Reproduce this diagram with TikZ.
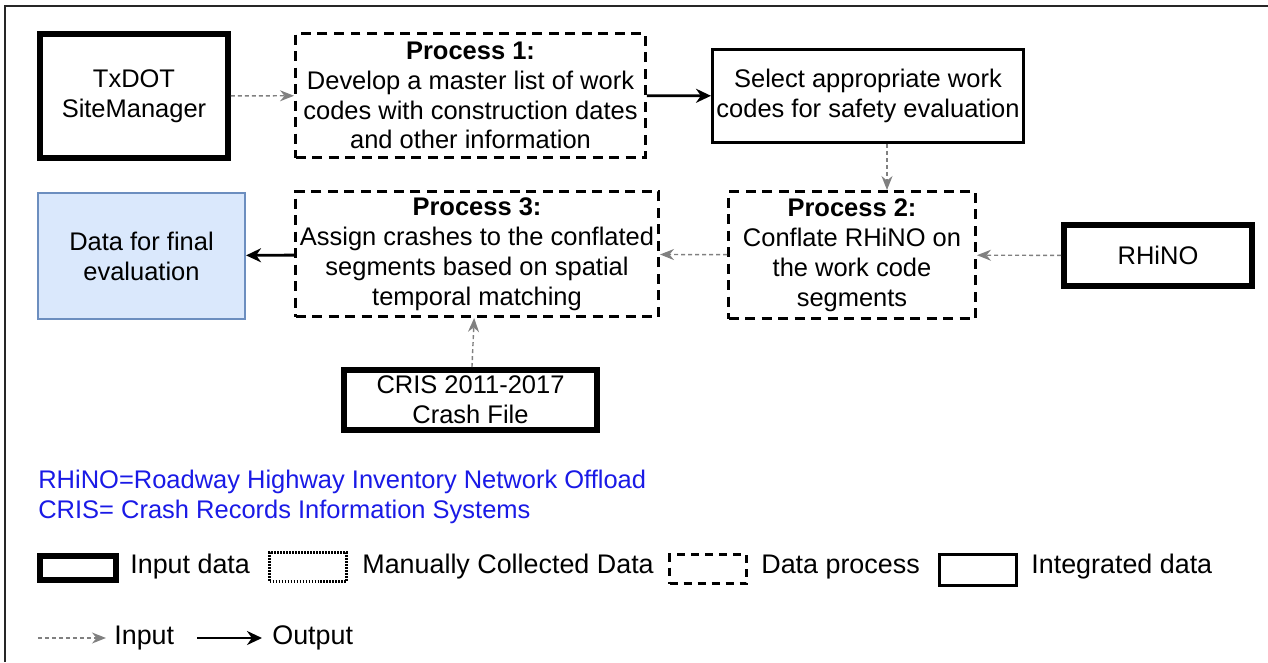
\documentclass[tikz,border=0pt]{standalone}
\usepackage{fontspec}
\setmainfont{Liberation Sans}
\usetikzlibrary{arrows.meta}
\definecolor{finalfill}{HTML}{DAE8FC}
\definecolor{finaldraw}{HTML}{6C8EBF}
\definecolor{abbrblue}{HTML}{1A1AE6}

\begin{document}
\begin{tikzpicture}[every node/.style={font=\fontsize{14.5}{17}\selectfont, align=center},
  legtext/.style={anchor=west, inner sep=0pt, font=\fontsize{15.3}{18}\selectfont},
  inbox/.style={draw, line width=3.4pt, inner sep=0pt},
  procbox/.style={draw, line width=1.7pt, dash pattern=on 0.2cm off 0.13cm, inner sep=0pt},
  intbox/.style={draw, line width=1.7pt, inner sep=0pt},
  manbox/.style={draw, line width=1.5pt, dash pattern=on 0.03cm off 0.03cm, inner sep=0pt},
  inarrow/.style={gray, line width=0.8pt, dash pattern=on 0.08cm off 0.06cm, -{Stealth[length=0.28cm, width=0.22cm]}},
  outarrow/.style={black, line width=1.6pt, -{Stealth[length=0.3cm, width=0.28cm]}}]
        % page and frame
        \useasboundingbox (0,0) rectangle (25.36,-13.24);
        \draw[line width=0.8pt, black!85] (0.1,-13.24) -- (0.1,-0.12) -- (25.36,-0.12);

        % Nodes with absolute positions
        \node[inbox, minimum width=3.76cm, minimum height=2.48cm] (txdot) at (2.68,-1.92) {TxDOT\\SiteManager};
        \node[procbox, minimum width=7.0cm, minimum height=2.48cm] (proc1) at (9.41,-1.91) {\textbf{Process 1:}\\Develop a master list of work\\codes with construction dates\\and other information};
        \node[intbox, minimum width=6.22cm, minimum height=1.86cm] (select) at (17.36,-1.92) {Select appropriate work\\codes for safety evaluation};
        \node[procbox, minimum width=4.94cm, minimum height=2.54cm] (proc2) at (17.04,-5.10) {\textbf{Process 2:}\\Conflate RHiNO on\\the work code\\segments};
        \node[inbox, minimum width=3.76cm, minimum height=1.22cm] (rhino) at (23.16,-5.11) {RHiNO};
        \node[procbox, minimum width=7.26cm, minimum height=2.5cm] (proc3) at (9.54,-5.08) {\textbf{Process 3:}\\Assign crashes to the conflated\\segments based on spatial\\temporal matching};
        \node[draw=finaldraw, fill=finalfill, line width=1.2pt, inner sep=0pt, minimum width=4.14cm, minimum height=2.52cm] (final) at (2.83,-5.12) {Data for final\\evaluation};
        \node[inbox, minimum width=5.06cm, minimum height=1.2cm] (cris) at (9.41,-8.0) {CRIS 2011-2017\\Crash File};

        % Arrows
        \draw[inarrow] (txdot) -- (proc1);
        \draw[outarrow] (proc1) -- (select);
        \draw[inarrow] ([xshift=0.38cm]select.south) -- ([xshift=0.38cm]select.south |- proc2.north);
        \draw[inarrow] (rhino) -- (proc2);
        \draw[inarrow] (proc2) -- (proc3);
        \draw[outarrow] (proc3) -- (final);
        \draw[inarrow] (cris) -- (proc3);

        % Abbreviations
        \node[anchor=west, text=abbrblue, inner sep=0pt] (abbr1) at (0.76,-9.64) {RHiNO=Roadway Highway Inventory Network Offload};
        \node[anchor=west, text=abbrblue, inner sep=0pt] (abbr2) at (0.76,-10.24) {CRIS= Crash Records Information Systems};

        % Legend
        \node[inbox, minimum width=1.52cm, minimum height=0.48cm] (leginput) at (1.56,-11.36) {};
        \node[legtext] (leginputtxt) at (2.6,-11.34) {Input data};
        \node[manbox, minimum width=1.54cm, minimum height=0.58cm] (legman) at (6.16,-11.34) {};
        \node[legtext] (legmantxt) at (7.24,-11.34) {Manually Collected Data};
        \node[procbox, dash pattern=on 0.16cm off 0.12cm, minimum width=1.54cm, minimum height=0.58cm] (legproc) at (14.16,-11.38) {};
        \node[legtext] (legproctxt) at (15.22,-11.34) {Data process};
        \node[intbox, minimum width=1.54cm, minimum height=0.62cm] (legint) at (19.56,-11.40) {};
        \node[legtext] (leginttxt) at (20.62,-11.34) {Integrated data};

        \coordinate (inA) at (0.76,-12.76);
        \node[legtext] (legin) at (2.28,-12.76) {Input};
        \coordinate (outA) at (3.94,-12.76);
        \node[legtext] (legout) at (5.44,-12.76) {Output};
        \draw[inarrow] (inA) -- ([xshift=-0.16cm]legin.west);
        \draw[outarrow] (outA) -- ([xshift=-0.2cm]legout.west);
      \end{tikzpicture}
\end{document}
